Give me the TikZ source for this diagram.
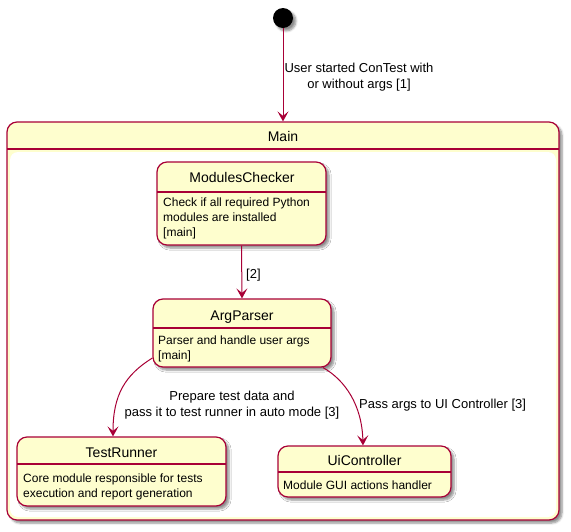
\documentclass[tikz,border=0pt]{standalone}
\usepackage{fontspec}
\setmainfont{Liberation Sans}
\usetikzlibrary{arrows.meta,shadows.blur}
\definecolor{pfill}{HTML}{FEFECE}
\definecolor{pline}{HTML}{A80036}
\tikzset{
 shad/.style={blur shadow={shadow xshift=3pt,shadow yshift=-3pt,shadow blur steps=6,shadow opacity=45}},
 statebox/.style={draw=pline, fill=pfill, line width=1.2pt, rounded corners=10pt, inner sep=0pt, shad},
 sepline/.style={draw=pline, line width=1.2pt},
 ttl/.style={font=\fontsize{14}{16}\selectfont, inner sep=0pt, anchor=base},
 desc/.style={font=\fontsize{12}{15}\selectfont, align=left, anchor=north west, inner sep=0pt},
 lbl/.style={font=\fontsize{13}{16}\selectfont, align=center, inner sep=0pt},
 conn/.style={draw=pline, line width=1pt, -{Stealth[length=10pt,width=11pt,inset=4.5pt]}},
}
\begin{document}
\begin{tikzpicture}[x=1pt,y=-1pt]
\useasboundingbox (0,0) rectangle (571,531);
% start
\node[circle, fill=black, minimum size=20pt, inner sep=0pt, shad] (start) at (283,18) {};
% Main composite state
\node[statebox, minimum width=552pt, minimum height=398pt] (main) at (283,321) {};
\fill[white, rounded corners=8pt] (10,152) rectangle (556,517);
\draw[sepline] (7,149) -- (559,149);
\node[ttl] (maint) at (283,141) {Main};
% ModulesChecker
\node[statebox, minimum width=169pt, minimum height=83pt] (mc) at (241.5,203.5) {};
\draw[sepline] (157,192) -- (326,192);
\node[ttl] (mct) at (242,182) {ModulesChecker};
\node[desc] (mcd) at (163,198) {Check if all required Python\\modules are installed\\[0pt][main]};
% ArgParser
\node[statebox, minimum width=178pt, minimum height=68pt] (ap) at (242,333) {};
\draw[sepline] (153,328) -- (331,328);
\node[ttl] (apt) at (242,320) {ArgParser};
\node[desc] (apd) at (158,336) {Parser and handle user args\\[0pt][main]};
% TestRunner
\node[statebox, minimum width=209pt, minimum height=69pt] (tr) at (121.5,471.5) {};
\draw[sepline] (17,464) -- (226,464);
\node[ttl] (trt) at (121.5,457) {TestRunner};
\node[desc] (trd) at (23,474) {Core module responsible for tests\\execution and report generation};
% UiController
\node[statebox, minimum width=173pt, minimum height=51pt] (ui) at (364.5,471.5) {};
\draw[sepline] (278,472) -- (451,472);
\node[ttl] (uit) at (364.5,465) {UiController};
\node[desc] (uid) at (283,481) {Module GUI actions handler};
% connectors
\draw[conn] (start) -- (main.north);
\node[lbl, anchor=north] (l1) at (359,63) {User started ConTest with\\or without args [1]};
\draw[conn] (mc.south) -- (ap.north);
\node[lbl, anchor=north west] (l2) at (246,269) {[2]};
\draw[conn] ([yshift=-25pt]ap.west) .. controls (125,375) and (113,395) .. ([xshift=-8.5pt]tr.north);
\node[lbl, anchor=north] (l3) at (232,391) {Prepare test data and\\pass it to test runner in auto mode [3]};
\draw[conn] ([xshift=81pt]ap.south) .. controls (345,380) and (362,405) .. ([xshift=-1.5pt]ui.north);
\node[lbl, anchor=north west] (l4) at (359,399) {Pass args to UI Controller [3]};
\end{tikzpicture}
\end{document}
